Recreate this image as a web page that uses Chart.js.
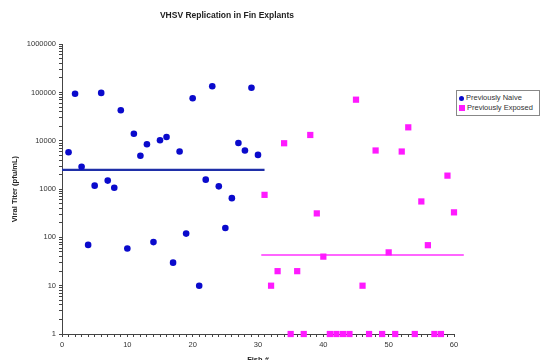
<!DOCTYPE html>
<html>
<head>
<meta charset="utf-8">
<script src="https://cdn.jsdelivr.net/npm/chart.js@4"></script>
<style>
  html, body { margin: 0; padding: 0; background: #fff; }
  #wrap { position: relative; width: 540px; height: 360px; }
  #legend {
    position: absolute; left: 456px; top: 90px; width: 80px;
    border: 1px solid #888; background: #fff; padding: 2px 0 2px 2px;
    font: 7.5px 'Liberation Sans', Arial, sans-serif; color: #333; line-height: 10px;
  }
  #legend .mk { display: inline-block; width: 5px; height: 5px; margin-right: 2px; vertical-align: -0.5px; }
  #legend .naive { background: #0a0acc; border-radius: 50%; }
  #legend .exposed { background: #ff1aff; width: 6px; height: 6px; }
</style>
</head>
<body>
<div id="wrap">
  <canvas id="chart" width="540" height="360"></canvas>
  <div id="legend">
    <div><span class="mk naive"></span>Previously Naive</div>
    <div><span class="mk exposed"></span>Previously Exposed</div>
  </div>
</div>
<script>
// ── Données ──
const naiveFish  = [1, 2, 3, 4, 5, 6, 7, 8, 9, 10, 11, 12, 13, 14, 15, 16, 17, 18, 19, 20,
                    21, 22, 23, 24, 25, 26, 27, 28, 29, 30];
const naiveTiter = [5800, 94000, 2900, 70, 1180, 98000, 1500, 1070, 43000, 59,
                    14000, 4900, 8500, 80, 10300, 12000, 30, 6000, 120, 76000,
                    10, 1570, 135000, 1140, 156, 650, 9000, 6300, 125000, 5100];

const exposedFish  = [31, 32, 33, 34, 35, 36, 37, 38, 39, 40, 41, 42, 43, 44, 45,
                      46, 47, 48, 49, 50, 51, 52, 53, 54, 55, 56, 57, 58, 59, 60];
const exposedTiter = [760, 10, 20, 8900, 1, 20, 1, 13200, 314, 40, 1, 1, 1, 1, 71000,
                      10, 1, 6300, 1, 49, 1, 6000, 19000, 1, 555, 69, 1, 1, 1900, 330];

// moyennes (lignes horizontales)
const naiveMeanX   = [0, 31];
const naiveMean    = 2500;
const exposedMeanX = [30.5, 61.5];
const exposedMean  = 43;

const yTickLabels = [1, 10, 100, 1000, 10000, 100000, 1000000];
const xTickLabels = [0, 10, 20, 30, 40, 50, 60];

const FONT = "'Liberation Sans', Arial, sans-serif";

const pts = (xs, ys) => xs.map((x, i) => ({ x: x, y: ys[i] }));
const meanLine = (xs, v) => xs.map(x => ({ x: x, y: v }));

// toutes les graduations mineures du log (1..9 x 10^k)
function logTicks() {
  const out = [];
  for (let i = 0; i < yTickLabels.length - 1; i++) {
    for (let m = 1; m < 10; m++) out.push({ value: m * yTickLabels[i] });
  }
  out.push({ value: yTickLabels[yTickLabels.length - 1] });
  return out;
}

const ctx = document.getElementById('chart').getContext('2d');
const chart = new Chart(ctx, {
  type: 'scatter',
  data: {
    datasets: [
      {
        label          : 'Previously Naive',
        data           : pts(naiveFish, naiveTiter),
        backgroundColor: '#0a0acc',
        borderColor    : '#0a0acc',
        pointStyle     : 'circle',
        pointRadius    : 3.3,
        borderWidth    : 0,
        clip           : false
      },
      {
        label          : 'Previously Exposed',
        data           : pts(exposedFish, exposedTiter),
        backgroundColor: '#ff1aff',
        borderColor    : '#ff1aff',
        pointStyle     : 'rect',
        pointRadius    : 4.4,
        borderWidth    : 0,
        clip           : false
      },
      {
        label      : 'mean naive',
        type       : 'line',
        data       : meanLine(naiveMeanX, naiveMean),
        borderColor: '#1f2fa8',
        borderWidth: 2.2,
        pointRadius: 0,
        clip       : false
      },
      {
        label      : 'mean exposed',
        type       : 'line',
        data       : meanLine(exposedMeanX, exposedMean),
        borderColor: '#ff33ff',
        borderWidth: 1.5,
        pointRadius: 0,
        clip       : false
      }
    ]
  },
  options: {
    responsive: false,
    animation : false,
    layout    : { padding: { left: 0, right: 86, top: 0, bottom: 0 } },
    plugins: {
      legend : { display: false },
      tooltip: { enabled: false },
      title  : {
        display: true,
        text   : 'VHSV Replication in Fin Explants',
        color  : '#222',
        font   : { family: FONT, size: 8.5, weight: 'bold' },
        padding: { top: 11, bottom: 23 }
      }
    },
    scales: {
      x: {
        type : 'linear',
        min  : 0,
        max  : 60,
        border: { color: '#444', width: 1 },
        grid : { drawOnChartArea: false, color: '#444', tickLength: 3 },
        afterBuildTicks: s => {
          const t = [];
          for (let v = s.min; v <= s.max; v++) t.push({ value: v });
          s.ticks = t;
        },
        afterFit: s => { s.height = 26; },
        ticks: {
          autoSkip   : false,
          maxRotation: 0,
          padding    : 3,
          color      : '#333',
          font       : { family: FONT, size: 7.5 },
          callback   : v => xTickLabels.includes(v) ? String(v) : ''
        },
        title: {
          display: true,
          text   : 'Fish #',
          color  : '#222',
          font   : { family: FONT, size: 7.5, weight: 'bold' },
          padding: { top: 0, bottom: -4 }
        }
      },
      y: {
        type : 'logarithmic',
        min  : 1,
        max  : 1000000,
        border: { color: '#444', width: 1 },
        grid : { drawOnChartArea: false, color: '#444', tickLength: 3 },
        afterBuildTicks: s => { s.ticks = logTicks(); },
        afterFit: s => { s.width = 62; },
        ticks: {
          autoSkip: false,
          padding : 3,
          color   : '#333',
          font    : { family: FONT, size: 7.5 },
          callback: v => yTickLabels.includes(v) ? String(v) : ''
        },
        title: {
          display: true,
          text   : 'Viral Titer (pfu/mL)',
          color  : '#222',
          font   : { family: FONT, size: 7.5, weight: 'bold' },
          padding: { top: 10, bottom: 0 }
        }
      }
    }
  }
});
</script>
</body>
</html>
